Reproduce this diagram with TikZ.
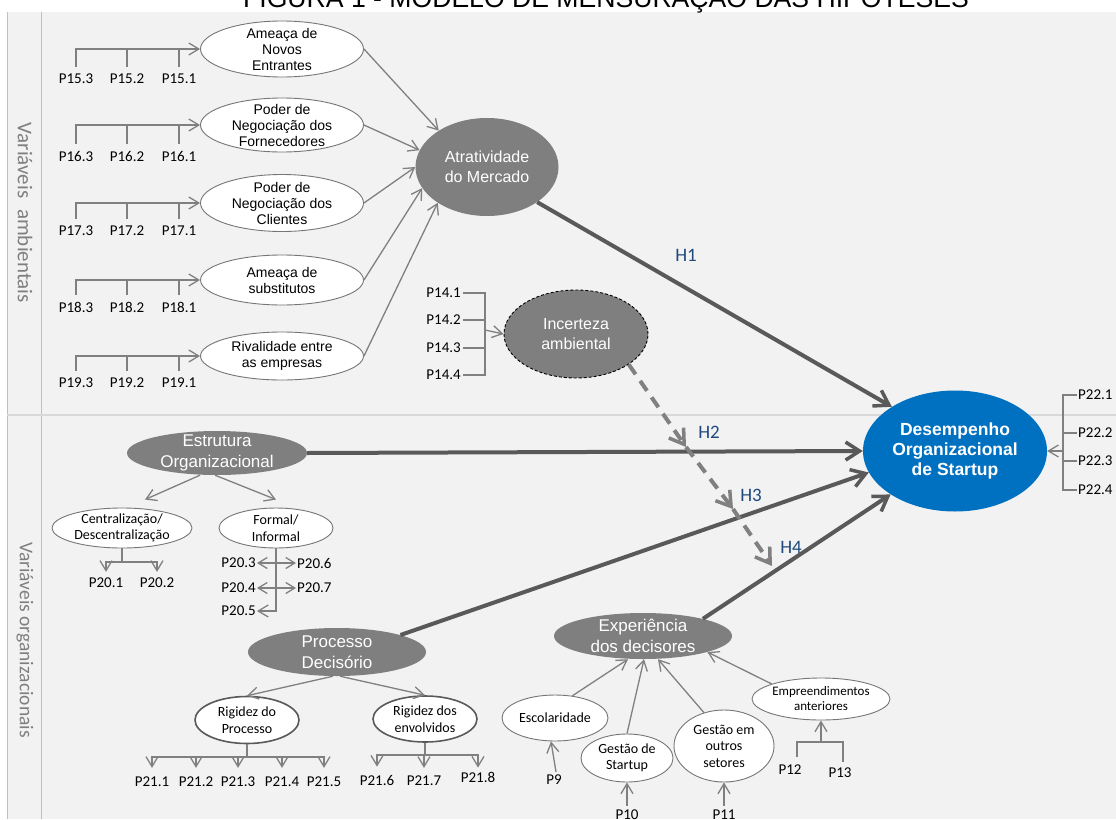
\documentclass[tikz,border=0pt]{standalone}
\usepackage{fontspec}
\setmainfont{Liberation Sans}
\newfontfamily\calfont{Carlito}
\usetikzlibrary{shapes.geometric,arrows.meta}
\definecolor{panel}{HTML}{F2F2F2}
\definecolor{lnc}{HTML}{808080}
\definecolor{dkc}{HTML}{595959}
\definecolor{gfill}{HTML}{7F7F7F}
\definecolor{elb}{HTML}{767676}
\definecolor{hblue}{HTML}{1F497D}
\definecolor{sblue}{HTML}{0070C0}
\definecolor{sepc}{HTML}{BFBFBF}
\definecolor{sepd}{HTML}{D9D9D9}
\begin{document}
\begin{tikzpicture}[x=1pt,y=-1pt,
 lnk/.style={draw=lnc, line width=1.3pt},
 la/.style={lnk, -{Straight Barb[length=10pt,width=12pt]}},
 dla/.style={lnk, {Straight Barb[length=9pt,width=11pt]}-{Straight Barb[length=9pt,width=11pt]}},
 ba/.style={draw=dkc, line width=4pt, -{Straight Barb[length=14pt,width=18pt,line width=3.5pt]}},
 da/.style={draw=lnc, line width=4pt, dash pattern=on 12pt off 8pt, -{Straight Barb[length=14pt,width=18pt,line width=3.5pt]}},
 wel/.style={ellipse, draw=elb, fill=white, line width=0.9pt, inner sep=0pt},
 rel/.style={ellipse, draw=dkc, fill=white, line width=1.6pt, inner sep=0pt},
 gel/.style={ellipse, fill=gfill, inner sep=0pt},
 t14/.style={align=center, inner sep=0pt, font=\fontsize{14}{16}\selectfont},
 c14/.style={align=center, inner sep=0pt, font=\calfont\fontsize{14}{16.5}\selectfont},
 c13/.style={align=center, inner sep=0pt, font=\calfont\fontsize{13}{15}\selectfont},
 g16/.style={align=center, inner sep=0pt, text=white, font=\fontsize{16}{20}\selectfont},
 g17/.style={align=center, inner sep=0pt, text=white, font=\fontsize{17}{20.5}\selectfont},
 pl/.style={inner sep=0pt, font=\calfont\fontsize{15}{16}\selectfont},
 hl/.style={inner sep=0pt, text=hblue, font=\calfont\fontsize{19}{20}\selectfont},
 side/.style={inner sep=0pt, text=gfill, rotate=-90, font=\calfont\fontsize{19.5}{20}\selectfont},
]
\useasboundingbox (0,0) rectangle (1116,819);
\clip (0,0) rectangle (1116,819);
% background
\fill[white] (0,0) rectangle (1116,819);
\fill[panel] (7,12) rectangle (1116,819);
\draw[sepc, line width=1pt] (7,12) -- (7,819);
\draw[sepc, line width=1pt] (41,12) -- (41,819);
\draw[sepd, line width=1.2pt] (7,415) -- (1116,415);
% title
\node[anchor=base, inner sep=0pt, font=\fontsize{26.6}{30}\selectfont] (title) at (606,7) {FIGURA 1 - MODELO DE MENSURAÇÃO DAS HIPÓTESES};
% side labels
\node[side, font=\calfont\fontsize{21}{22}\selectfont] (amb) at (25,213) {Variáveis\hspace{6pt} ambientais};
\node[side] (org) at (25,640) {Variáveis organizacionais};

% ---------- environmental block ----------
\node[wel, minimum width=163pt, minimum height=56pt, label={[t14]center:{Ameaça de\\Novos\\Entrantes}}] (e1) at (282,49) {};
\node[wel, minimum width=163pt, minimum height=54pt, label={[t14]center:{Poder de\\Negociação dos\\Fornecedores}}] (e2) at (282,125) {};
\node[wel, minimum width=163pt, minimum height=57pt, label={[t14]center:{Poder de\\Negociação dos\\Clientes}}] (e3) at (282,203) {};
\node[wel, minimum width=163pt, minimum height=50pt, label={[t14]center:{Ameaça de\\substitutos}}] (e4) at (282,280) {};
\node[wel, minimum width=163pt, minimum height=48pt, label={[t14]center:{Rivalidade entre\\as empresas}}] (e5) at (282,356) {};

\node[pl] (p15c) at (76,79) {P15.3};
\node[pl] (p15b) at (127,79) {P15.2};
\node[pl] (p15a) at (179,79) {P15.1};
\draw[la] ([yshift=7pt]p15c.north) |- (e1.west);
\draw[lnk] ([yshift=7pt]p15b.north) -- (p15b.north |- e1.west);
\draw[lnk] ([yshift=7pt]p15a.north) -- (p15a.north |- e1.west);

\node[pl] (p16c) at (76,156) {P16.3};
\node[pl] (p16b) at (127,156) {P16.2};
\node[pl] (p16a) at (179,156) {P16.1};
\draw[la] ([yshift=7pt]p16c.north) |- (e2.west);
\draw[lnk] ([yshift=7pt]p16b.north) -- (p16b.north |- e2.west);
\draw[lnk] ([yshift=7pt]p16a.north) -- (p16a.north |- e2.west);

\node[pl] (p17c) at (76,231) {P17.3};
\node[pl] (p17b) at (127,231) {P17.2};
\node[pl] (p17a) at (179,231) {P17.1};
\draw[la] ([yshift=7pt]p17c.north) |- (e3.west);
\draw[lnk] ([yshift=7pt]p17b.north) -- (p17b.north |- e3.west);
\draw[lnk] ([yshift=7pt]p17a.north) -- (p17a.north |- e3.west);

\node[pl] (p18c) at (76,307) {P18.3};
\node[pl] (p18b) at (127,307) {P18.2};
\node[pl] (p18a) at (179,307) {P18.1};
\draw[la] ([yshift=7pt]p18c.north) |- (e4.west);
\draw[lnk] ([yshift=7pt]p18b.north) -- (p18b.north |- e4.west);
\draw[lnk] ([yshift=7pt]p18a.north) -- (p18a.north |- e4.west);

\node[pl] (p19c) at (76,383) {P19.3};
\node[pl] (p19b) at (127,383) {P19.2};
\node[pl] (p19a) at (179,383) {P19.1};
\draw[la] ([yshift=7pt]p19c.north) |- (e5.west);
\draw[lnk] ([yshift=7pt]p19b.north) -- (p19b.north |- e5.west);
\draw[lnk] ([yshift=7pt]p19a.north) -- (p19a.north |- e5.west);

\node[gel, minimum width=143pt, minimum height=98pt, label={[g16]center:{Atratividade\\do Mercado}}] (atr) at (487,167) {};
\draw[la] (e1.east) -- (atr.143);
\draw[la] (e2.east) -- (atr.166);
\draw[la] (e3.east) -- (atr.180);
\draw[la] (e4.east) -- (atr.198);
\draw[la] (e5.east) -- (atr.216);

% Incerteza
\node[gel, draw=black, line width=0.9pt, dash pattern=on 3pt off 2pt, minimum width=144pt, minimum height=88pt, label={[g16]center:{Incerteza\\ambiental}}] (inc) at (576,334) {};
\node[pl, anchor=east] (p141) at (461,293) {P14.1};
\node[pl, anchor=east] (p142) at (461,320) {P14.2};
\node[pl, anchor=east] (p143) at (461,348) {P14.3};
\node[pl, anchor=east] (p144) at (461,375) {P14.4};
\coordinate (j14) at (485,330);
\draw[lnk] ([xshift=2pt]p141.east) -| (j14 |- p144.east) -- ([xshift=2pt]p144.east);
\draw[lnk] ([xshift=2pt]p142.east) -- (j14 |- p142.east);
\draw[lnk] ([xshift=2pt]p143.east) -- (j14 |- p143.east);
\draw[la] (j14) -- (inc.west);

% Desempenho
\node[ellipse, fill=sblue, inner sep=0pt, minimum width=184pt, minimum height=121pt,
  label={[align=center, inner sep=0pt, text=white, font=\bfseries\fontsize{17.5}{20}\selectfont]center:{Desempenho\\Organizacional\\de Startup}}] (des) at (955,451) {};
\node[pl, anchor=west] (p221) at (1078,395) {P22.1};
\node[pl, anchor=west] (p222) at (1078,433) {P22.2};
\node[pl, anchor=west] (p223) at (1078,461) {P22.3};
\node[pl, anchor=west] (p224) at (1078,490) {P22.4};
\coordinate (j22) at (1063,451);
\draw[lnk] ([xshift=-1pt]p221.west) -| (j22 |- p224.west) -- ([xshift=-1pt]p224.west);
\draw[lnk] ([xshift=-1pt]p222.west) -- (j22 |- p222.west);
\draw[lnk] ([xshift=-1pt]p223.west) -- (j22 |- p223.west);
\draw[la] (j22) -- (des.east);

% H1
\draw[ba] (atr.-35) -- (des.145);
\node[hl] (h1) at (686,255) {H1};

% ---------- organizational block ----------
\node[gel, minimum width=180pt, minimum height=44pt, label={[g17]center:{Estrutura\\Organizacional}}] (est) at (217,453) {};
\node[ellipse, draw=elb, fill=white, line width=0.9pt, inner sep=0pt, minimum width=140pt, minimum height=40pt, label={[c14]center:{Centralização/\\Descentralização}}] (cen) at (122,528) {};
\node[wel, minimum width=114pt, minimum height=40pt, label={[c14]center:{Formal/\\Informal}}] (for) at (276,528) {};
\draw[la] ([xshift=-17pt]est.south) -- ([shift={(23,-8)}]cen.north);
\draw[la] ([xshift=-2pt]est.south) -- ([yshift=8pt]for.north);

\node[pl] (p201) at (106,583) {P20.1};
\node[pl] (p202) at (157,583) {P20.2};
\coordinate (cj) at (122,562);
\draw[lnk] (cen.south) -- (cj);
\draw[la] (cj) -| ([yshift=6pt]p201.north);
\draw[la] (cj) -| ([yshift=6pt]p202.north);

\node[pl, anchor=east] (p203) at (256,563) {P20.3};
\node[pl, anchor=west] (p206) at (297,563) {P20.6};
\node[pl, anchor=east] (p204) at (256,588) {P20.4};
\node[pl, anchor=west] (p207) at (297,588) {P20.7};
\node[pl, anchor=east] (p205) at (256,611) {P20.5};
\draw[dla] ([xshift=1pt]p203.east) -- ([xshift=-1pt]p206.west);
\draw[dla] ([xshift=1pt]p204.east) -- ([xshift=-1pt]p207.west);
\draw[la] (for.south) |- ([xshift=1pt]p205.east);

\draw[ba] (est.east) -- (des.west);
\node[hl] (h2) at (709,432) {H2};

% Processo
\node[gel, minimum width=178pt, minimum height=48pt, label={[g17]center:{Processo\\Decisório}}] (proc) at (337,652) {};
\node[rel, minimum width=104pt, minimum height=47pt, label={[c14]center:{Rigidez do\\Processo}}] (rp) at (247,720) {};
\node[rel, minimum width=104pt, minimum height=46pt, label={[c14]center:{Rigidez dos\\envolvidos}}] (re) at (425,719) {};
\draw[la] ([xshift=-4pt]proc.south) -- (rp.north);
\draw[la] ([xshift=3pt]proc.south) -- (re.north);

\node[pl] (p211) at (152,782) {P21.1};
\node[pl] (p212) at (196,782) {P21.2};
\node[pl] (p213) at (238,782) {P21.3};
\node[pl] (p214) at (282,782) {P21.4};
\node[pl] (p215) at (324,782) {P21.5};
\coordinate (rj) at (247,757);
\draw[lnk] (rp.south) -- (rj);
\foreach \n in {p211,p212,p213,p214,p215}{\draw[la] (rj) -| ([yshift=9pt]\n.north);}

\node[pl] (p216) at (377,780) {P21.6};
\node[pl] (p217) at (424,781) {P21.7};
\node[pl] (p218) at (478,777) {P21.8};
\coordinate (ej2) at (425,755);
\draw[lnk] (re.south) -- (ej2);
\draw[la] (ej2) -| ([yshift=8pt]p216.north);
\draw[la] (ej2) -| ([yshift=8pt]p217.north);
\draw[la] (ej2) -| ([yshift=4pt]p218.north);

\draw[ba] (proc.15) -- (des.194);
\node[hl] (h3) at (751,495) {H3};

% Experiencia
\node[gel, minimum width=178pt, minimum height=46pt, label={[g17]center:{Experiência\\dos decisores}}] (exp) at (643,636) {};
\node[wel, minimum width=106pt, minimum height=46pt, label={[c14]center:{Escolaridade}}] (esc) at (555,718) {};
\node[wel, minimum width=92pt, minimum height=48pt, label={[c14]center:{Gestão de\\Startup}}] (gs) at (627,758) {};
\node[wel, minimum width=100pt, minimum height=72pt, label={[c14]center:{Gestão em\\outros\\setores}}] (go) at (724,746) {};
\node[wel, minimum width=138pt, minimum height=42pt, label={[c13]center:{Empreendimentos\\anteriores}}] (emp) at (821,699) {};
\draw[la] (esc.52) -- ([xshift=-15pt]exp.south);
\draw[la] (gs.north) -- ([xshift=1pt]exp.south);
\draw[la] (go.121) -- ([xshift=15pt]exp.south);
\draw[la] (emp.163) -- (exp.-14);

\node[pl] (p9) at (554,780) {P9};
\node[pl] (p10) at (627,815) {P10};
\node[pl] (p11) at (724,815) {P11};
\node[pl] (p12) at (790,770) {P12};
\node[pl] (p13) at (840,773) {P13};
\draw[la] ([xshift=2pt,yshift=3pt]p9.north) -- ([xshift=-4pt]esc.south);
\draw[la] ([yshift=4pt]p10.north) -- (gs.south);
\draw[la] ([yshift=4pt]p11.north) -- (go.south);
\coordinate (k12) at (797,757);
\coordinate (k13) at (843,762);
\coordinate (ej) at (821,742);
\draw[lnk] (k12) |- (ej) -| (k13);
\draw[la] (ej) -- (emp.south);

\draw[ba] (exp.16) -- (des.214);
\node[hl] (h4) at (791,547) {H4};

% dashed moderation arrow
\coordinate (m2) at (686,447);
\coordinate (m3) at (733,509);
\coordinate (m4) at (772,566);
\draw[da] (inc.-30) -- (m2);
\draw[da] (m2) -- (m3);
\draw[da] (m3) -- (m4);
\end{tikzpicture}
\end{document}
